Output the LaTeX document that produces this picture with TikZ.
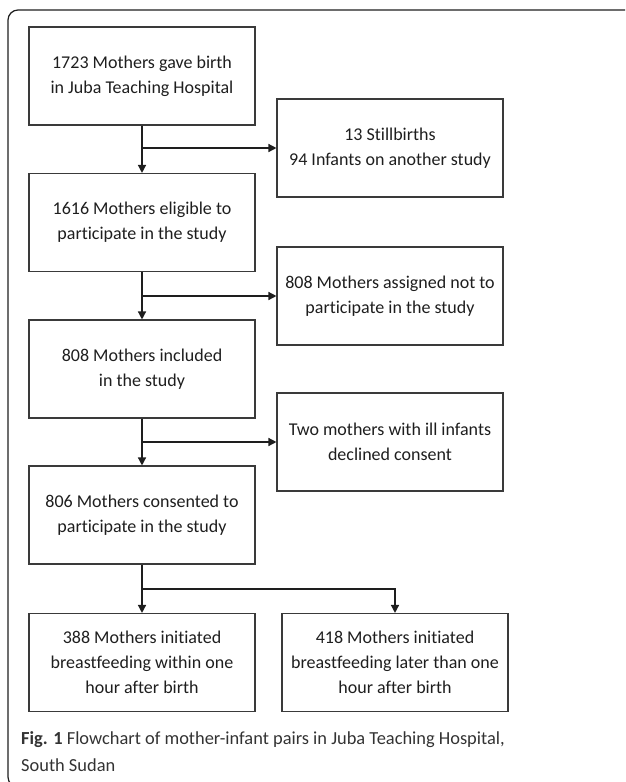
\documentclass[tikz,border=0pt]{standalone}
\usepackage{fontspec}
\setmainfont{Carlito}[RawFeature={-liga;-dlig;-clig}]
\usetikzlibrary{arrows.meta,calc}
\definecolor{boxline}{HTML}{3A3A3A}
\definecolor{txt}{HTML}{1E1E1E}
\definecolor{captxt}{HTML}{333333}
\begin{document}
\begin{tikzpicture}[x=1pt,y=-1pt,
  flowbox/.style={draw=boxline,line width=1.1pt,minimum width=226pt,minimum height=98pt,
    inner sep=0pt,align=center,text=txt,font=\fontsize{18}{25}\selectfont},
  conn/.style={draw=txt,line width=1.4pt},
  arr/.style={conn,-{Triangle[length=8pt,width=8pt]}}]
\useasboundingbox (0,0) rectangle (625,782);
\begin{scope}
\clip (0,0) rectangle (625,782);
\draw[line width=1.2pt,draw=txt,rounded corners=10pt] (8,10) rectangle (640,787);
\end{scope}
\node[flowbox] (b1) at (142,76) {1723 Mothers gave birth\\in Juba Teaching Hospital};
\node[flowbox] (r1) at (390,148) {13 Stillbirths\\94 Infants on another study};
\node[flowbox] (b2) at (142,222.5) {1616 Mothers eligible to\\participate in the study};
\node[flowbox] (r2) at (390,296) {808 Mothers assigned not to\\participate in the study};
\node[flowbox] (b3) at (142,369) {808 Mothers included\\in the study};
\node[flowbox] (r3) at (390,442) {Two mothers with ill infants\\declined consent};
\node[flowbox] (b4) at (142,515) {806 Mothers consented to\\participate in the study};
\node[flowbox] (bl) at (142,662.5) {388 Mothers initiated\\breastfeeding within one\\hour after birth};
\node[flowbox] (br) at (395,662.5) {418 Mothers initiated\\breastfeeding later than one\\hour after birth};
\draw[arr] (b1.south) -- (b2.north);
\draw[arr] (b1.south |- r1.west) -- (r1.west);
\draw[arr] (b2.south) -- (b3.north);
\draw[arr] (b2.south |- r2.west) -- (r2.west);
\draw[arr] (b3.south) -- (b4.north);
\draw[arr] (b3.south |- r3.west) -- (r3.west);
\coordinate (split) at (142,589);
\draw[conn] (b4.south) -- (split);
\draw[arr] (split) -- (bl.north);
\draw[arr] (split) -| (br.north);
\node[anchor=west,align=left,text=captxt,font=\fontsize{18.4}{27}\selectfont,inner sep=0pt] (cap) at (21,751.5)
  {\textbf{Fig. 1} Flowchart of mother-infant pairs in Juba Teaching Hospital,\\South Sudan};
\end{tikzpicture}
\end{document}
